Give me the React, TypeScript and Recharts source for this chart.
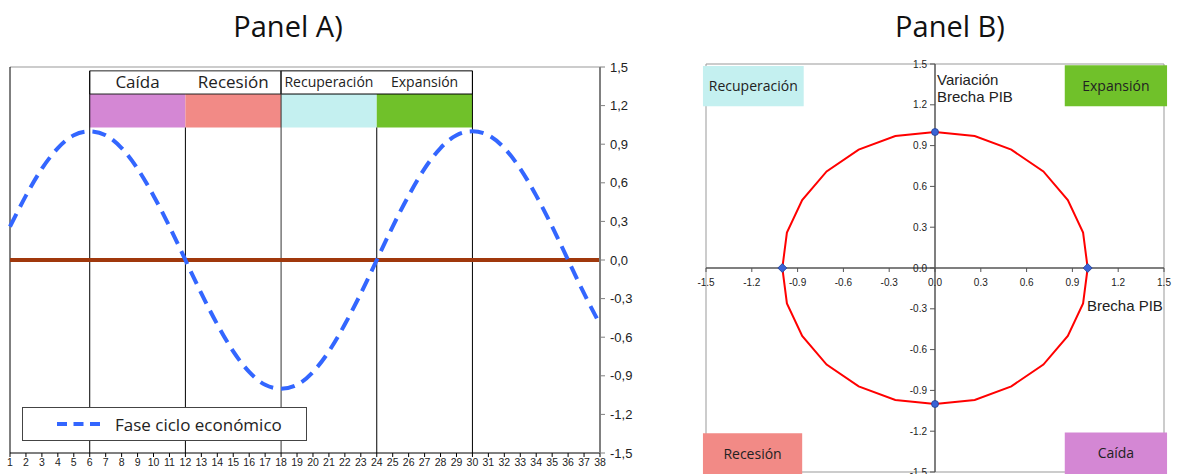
import React from 'react'
import {
  ComposedChart,
  ScatterChart,
  Line,
  Scatter,
  XAxis,
  YAxis,
  ReferenceLine,
  ReferenceArea,
  Legend,
} from 'recharts'

// Panel A: fase del ciclo económico por periodo
const periods = [1, 2, 3, 4, 5, 6, 7, 8, 9, 10, 11, 12, 13, 14, 15, 16, 17, 18, 19, 20, 21, 22, 23, 24, 25, 26, 27, 28, 29, 30, 31, 32, 33, 34, 35, 36, 37, 38]
const cycle = [0.26, 0.5, 0.71, 0.87, 0.97, 1, 0.97, 0.87, 0.71, 0.5, 0.26, 0, -0.26, -0.5, -0.71, -0.87, -0.97, -1, -0.97, -0.87, -0.71, -0.5, -0.26, 0, 0.26, 0.5, 0.71, 0.87, 0.97, 1, 0.97, 0.87, 0.71, 0.5, 0.26, 0, -0.26, -0.5]
const yTicksA = [-1.5, -1.2, -0.9, -0.6, -0.3, 0, 0.3, 0.6, 0.9, 1.2, 1.5]

const phaseNames = ['Caída', 'Recesión', 'Recuperación', 'Expansión']
const phaseFrom = [6, 12, 18, 24]
const phaseTo = [12, 18, 24, 30]
const phaseColors = ['#D487D4', '#F28A86', '#C4F0F0', '#70C12A']
const phaseFont = [17, 17, 14, 14]

// Panel B: brecha PIB vs variación
const gapX = [1, 0.97, 0.87, 0.71, 0.5, 0.26, 0, -0.26, -0.5, -0.71, -0.87, -0.97, -1, -0.97, -0.87, -0.71, -0.5, -0.26, 0, 0.26, 0.5, 0.71, 0.87, 0.97, 1]
const gapY = [0, 0.26, 0.5, 0.71, 0.87, 0.97, 1, 0.97, 0.87, 0.71, 0.5, 0.26, 0, -0.26, -0.5, -0.71, -0.87, -0.97, -1, -0.97, -0.87, -0.71, -0.5, -0.26, 0]
const roundX = [0, 0]
const roundY = [1, -1]
const diamondX = [1, -1]
const diamondY = [0, 0]
const ticksB = [-1.5, -1.2, -0.9, -0.6, -0.3, 0, 0.3, 0.6, 0.9, 1.2, 1.5]

const cycleData = periods.map((p, i) => ({ p, v: cycle[i] }))
const circleData = gapX.map((x, i) => ({ x, y: gapY[i] }))
const roundData = roundX.map((x, i) => ({ x, y: roundY[i] }))
const diamondData = diamondX.map((x, i) => ({ x, y: diamondY[i] }))

const BLUE = '#3366FF'
const SANS = '"Open Sans", sans-serif'
const ARIAL = '"Liberation Sans", Arial, sans-serif'
const PLOT_B = { w: 458, h: 408 }

const LegendBox = () => (
  <div
    style={{
      width: 285,
      height: 34,
      boxSizing: 'border-box',
      border: '1px solid #444',
      background: '#fff',
      display: 'flex',
      alignItems: 'center',
      fontFamily: SANS,
      fontSize: 17,
      color: '#222',
    }}
  >
    <svg width={92} height={10}>
      <line x1={34} x2={77} y1={5} y2={5} stroke={BLUE} strokeWidth={4} strokeDasharray="10 6.5" />
    </svg>
    <span>Fase ciclo económico</span>
  </div>
)

// ejes que cruzan en el origen: las marcas se desplazan al centro del área
function CrossXTick(props: any) {
  const { x, y, payload } = props
  const ay = y - PLOT_B.h / 2
  return (
    <g>
      <line x1={x} x2={x} y1={ay} y2={ay + 4} stroke="#555" />
      <text x={x} y={ay + 18} textAnchor="middle" fontSize={10} fill="#222" fontFamily={ARIAL}>
        {Number(payload.value).toFixed(1)}
      </text>
    </g>
  )
}

function CrossYTick(props: any) {
  const { x, y, payload } = props
  const ax = x + PLOT_B.w / 2
  return (
    <g>
      <line x1={ax - 5} x2={ax} y1={y} y2={y} stroke="#555" />
      <text x={ax - 8} y={y + 3.5} textAnchor="end" fontSize={10} fill="#222" fontFamily={ARIAL}>
        {Number(payload.value).toFixed(1)}
      </text>
    </g>
  )
}

const RoundDot = (props: any) => (
  <circle cx={props.cx} cy={props.cy} r={3.5} fill="#3A63D6" stroke="#23408f" strokeWidth={0.8} />
)
const DiamondDot = (props: any) => {
  const { cx, cy } = props
  return (
    <polygon
      points={`${cx},${cy - 4.5} ${cx + 4.5},${cy} ${cx},${cy + 4.5} ${cx - 4.5},${cy}`}
      fill="#3A63D6"
      stroke="#23408f"
      strokeWidth={0.8}
    />
  )
}
const NoDot = () => <g />

const corner = (value: string) => ({ value, position: 'center' as const, fontSize: 14, fill: '#222', fontFamily: SANS })

function PanelA() {
  return (
    <ComposedChart width={640} height={474} data={cycleData} margin={{ top: 67, right: 0, bottom: 0, left: 10 }}>
      <XAxis
        dataKey="p"
        type="number"
        domain={[1, 38]}
        ticks={periods}
        interval={0}
        height={21}
        tick={{ fontSize: 10.5, fill: '#222', fontFamily: ARIAL }}
        axisLine={{ stroke: '#000' }}
        tickLine={{ stroke: '#000' }}
        tickSize={4}
        tickMargin={2}
      />
      <YAxis
        orientation="right"
        type="number"
        domain={[-1.5, 1.5]}
        ticks={yTicksA}
        interval={0}
        width={40}
        tick={{ fontSize: 13, fill: '#222', fontFamily: ARIAL }}
        tickFormatter={(v: number) => v.toFixed(1).replace('.', ',')}
        axisLine={{ stroke: '#808080', strokeWidth: 2 }}
        tickLine={{ stroke: '#808080' }}
        tickSize={5}
        tickMargin={5}
      />
      <ReferenceLine y={1.5} stroke="#999" ifOverflow="visible" />
      <ReferenceLine x={1} stroke="#000" ifOverflow="visible" />
      {phaseNames.map((n, i) => (
        <ReferenceArea
          key={'bar' + n}
          x1={phaseFrom[i]}
          x2={phaseTo[i]}
          y1={1.03}
          y2={1.29}
          fill={phaseColors[i]}
          fillOpacity={1}
          stroke="none"
          ifOverflow="visible"
        />
      ))}
      <ReferenceArea x1={6} x2={18} y1={1.29} y2={1.47} fill="#fff" fillOpacity={1} stroke="#222" ifOverflow="visible" />
      <ReferenceArea x1={18} x2={30} y1={1.29} y2={1.47} fill="#fff" fillOpacity={1} stroke="#000" ifOverflow="visible" />
      {phaseNames.map((n, i) => (
        <ReferenceArea
          key={'txt' + n}
          x1={phaseFrom[i]}
          x2={phaseTo[i]}
          y1={1.29}
          y2={1.47}
          fill="none"
          stroke="none"
          ifOverflow="visible"
          label={{ value: n, position: 'center', fontSize: phaseFont[i], fill: '#222', fontFamily: SANS }}
        />
      ))}
      <ReferenceLine segment={[{ x: 6, y: 1.47 }, { x: 6, y: -1.5 }]} stroke="#000" ifOverflow="visible" />
      <ReferenceLine segment={[{ x: 12, y: 1.03 }, { x: 12, y: -1.5 }]} stroke="#000" ifOverflow="visible" />
      <ReferenceLine segment={[{ x: 18, y: 1.47 }, { x: 18, y: -1.5 }]} stroke="#333" ifOverflow="visible" />
      <ReferenceLine segment={[{ x: 24, y: 1.03 }, { x: 24, y: -1.5 }]} stroke="#000" ifOverflow="visible" />
      <ReferenceLine segment={[{ x: 30, y: 1.47 }, { x: 30, y: -1.5 }]} stroke="#000" ifOverflow="visible" />
      <ReferenceLine y={0} stroke="#A0380C" strokeWidth={4} />
      <Line
        dataKey="v"
        name="Fase ciclo económico"
        type="natural"
        stroke={BLUE}
        strokeWidth={4}
        strokeDasharray="14 8"
        dot={false}
        isAnimationActive={false}
      />
      <Legend
        layout="horizontal"
        verticalAlign="middle"
        align="center"
        content={() => <LegendBox />}
        wrapperStyle={{ left: 22, top: 407, width: 285, height: 34 }}
      />
    </ComposedChart>
  )
}

function PanelB() {
  return (
    <ScatterChart width={537} height={474} margin={{ top: 64, right: 13, bottom: 1, left: 65 }}>
      <XAxis
        dataKey="x"
        type="number"
        domain={[-1.5, 1.5]}
        ticks={ticksB}
        interval={0}
        height={1}
        tickSize={0}
        tickMargin={0}
        axisLine={false}
        tickLine={false}
        tick={<CrossXTick />}
      />
      <YAxis
        dataKey="y"
        type="number"
        domain={[-1.5, 1.5]}
        ticks={ticksB}
        interval={0}
        width={1}
        tickSize={0}
        tickMargin={0}
        axisLine={false}
        tickLine={false}
        tick={<CrossYTick />}
      />
      <ReferenceArea x1={-1.5} x2={1.5} y1={-1.5} y2={1.5} fill="none" stroke="#999" ifOverflow="visible" />
      <ReferenceArea x1={-1.52} x2={-0.86} y1={1.19} y2={1.485} fill="#C4F0F0" fillOpacity={1} stroke="none" ifOverflow="visible" label={corner('Recuperación')} />
      <ReferenceArea x1={0.85} x2={1.52} y1={1.19} y2={1.49} fill="#70C12A" fillOpacity={1} stroke="none" ifOverflow="visible" label={corner('Expansión')} />
      <ReferenceArea x1={-1.52} x2={-0.87} y1={-1.515} y2={-1.215} fill="#F28A86" fillOpacity={1} stroke="none" ifOverflow="visible" label={corner('Recesión')} />
      <ReferenceArea x1={0.85} x2={1.52} y1={-1.515} y2={-1.21} fill="#D487D4" fillOpacity={1} stroke="none" ifOverflow="visible" label={corner('Caída')} />
      <ReferenceLine x={0} stroke="#555" strokeWidth={1.5} />
      <ReferenceLine y={0} stroke="#555" strokeWidth={1.5} />
      <Scatter
        data={circleData}
        line={{ stroke: '#FF0000', strokeWidth: 2 }}
        shape={NoDot}
        isAnimationActive={false}
      />
      <Scatter data={roundData} shape={RoundDot} isAnimationActive={false} />
      <Scatter data={diamondData} shape={DiamondDot} isAnimationActive={false} />
    </ScatterChart>
  )
}

export default function App() {
  return (
    <div style={{ position: 'absolute', left: 0, top: 0, width: 1177, height: 474, background: '#fff', overflow: 'hidden' }}>
      <div style={{ position: 'absolute', left: 0, top: 11, width: 576, textAlign: 'center', fontFamily: SANS, fontSize: 29, lineHeight: '29px', color: '#111' }}>
        Panel A)
      </div>
      <div style={{ position: 'absolute', left: 640, top: 11, width: 620, textAlign: 'center', fontFamily: SANS, fontSize: 29, lineHeight: '29px', color: '#111' }}>
        Panel B)
      </div>
      <div style={{ position: 'absolute', left: 0, top: 0 }}>
        <PanelA />
      </div>
      <div style={{ position: 'absolute', left: 640, top: 0 }}>
        <PanelB />
      </div>
      <div style={{ position: 'absolute', left: 937, top: 71, fontFamily: ARIAL, fontSize: 15, lineHeight: '17px', color: '#222' }}>
        Variación
        <br />
        Brecha PIB
      </div>
      <div style={{ position: 'absolute', left: 1087, top: 297, fontFamily: ARIAL, fontSize: 15, lineHeight: '17px', color: '#222' }}>
        Brecha PIB
      </div>
    </div>
  )
}
